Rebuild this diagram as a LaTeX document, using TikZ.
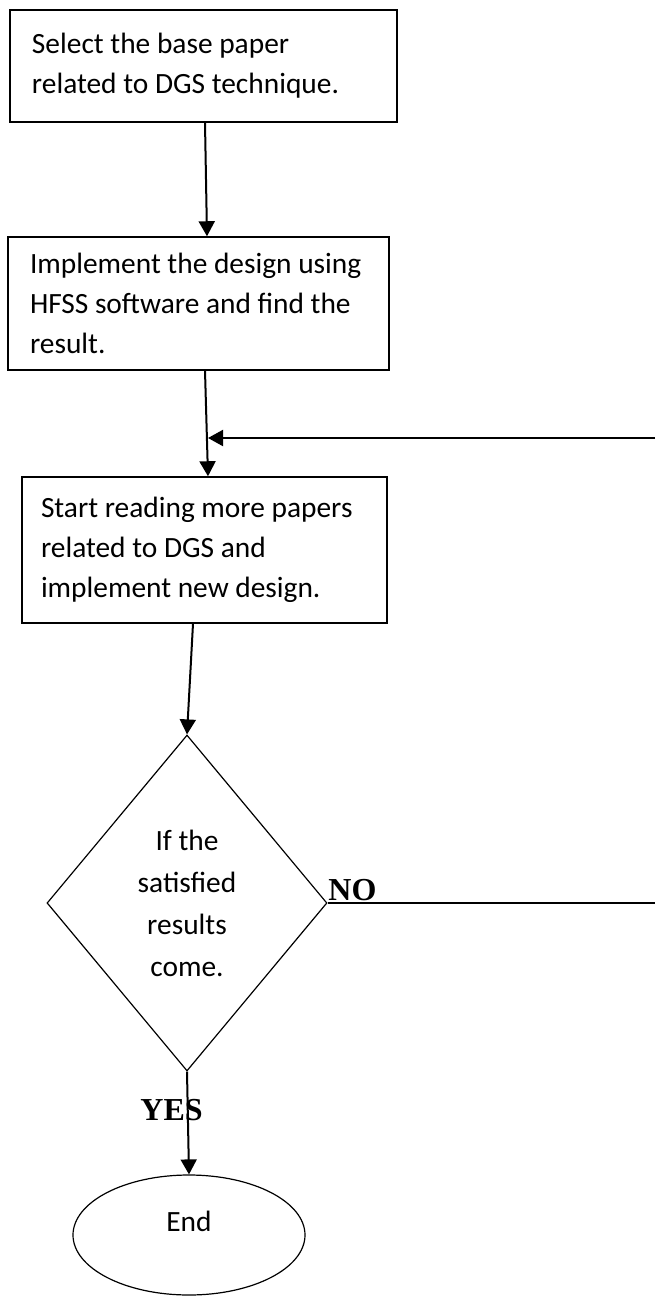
\documentclass[tikz,border=0pt]{standalone}
\usepackage{fontspec}
\setmainfont{Carlito}
\newfontfamily\answerfont{Liberation Serif}
\usetikzlibrary{arrows.meta,shapes.geometric}

\begin{document}
\begin{tikzpicture}[x=0.5pt,y=-0.5pt,>={Triangle[length=7.5pt,width=8pt]},
  flowbox/.style={draw,line width=0.75pt,align=flush left,font=\fontsize{14.7}{20}\selectfont},
  decision/.style={draw,diamond,line width=0.6pt,inner sep=0pt,align=center,minimum width=140pt,minimum height=168pt,font=\fontsize{14.7}{21}\selectfont},
  terminal/.style={draw,ellipse,line width=0.6pt,minimum width=116pt,minimum height=60pt,text depth=14pt,font=\fontsize{14.7}{18}\selectfont},
  answer/.style={inner sep=0pt,anchor=base west,font=\answerfont\bfseries\fontsize{16}{16}\selectfont},
  flow/.style={->,line width=1pt}]
\useasboundingbox (0,0) rectangle (655,1296);
\node[flowbox,inner xsep=11pt,text width=171.5pt,minimum height=56pt] (n1) at (203.5,66) {Select the base paper\\related to DGS technique.};
\node[flowbox,inner xsep=11pt,text width=168.5pt,minimum height=66.5pt] (n2) at (198.5,303.5) {Implement the design using\\HFSS software and find the\\result.};
\node[flowbox,inner xsep=9.5pt,text width=163.5pt,minimum height=73pt] (n3) at (204.5,550) {Start reading more papers\\related to DGS and\\implement new design.};
\node[decision] (n4) at (187,903) {If the\\satisfied\\results\\come.};
\node[terminal] (n5) at (189,1235) {End};
\node[answer] (no) at (328,900) {NO};
\node[answer] (yes) at (140,1120) {YES};
\coordinate (back) at (655,438);
\coordinate (join) at (208,438);
\coordinate (noend) at (655,903);
\draw[flow] ([xshift=0.75pt]n1.south) -- ([xshift=4.25pt]n2.north);
\draw[flow] ([xshift=3.25pt]n2.south) -- ([xshift=1.75pt]n3.north);
\draw[flow] (back) -- (join);
\draw[flow] ([xshift=-5.75pt]n3.south) -- (n4.north);
\draw[line width=1pt] (n4.east) -- (noend);
\draw[flow] (n4.south) -- (n5.north);
\end{tikzpicture}
\end{document}
